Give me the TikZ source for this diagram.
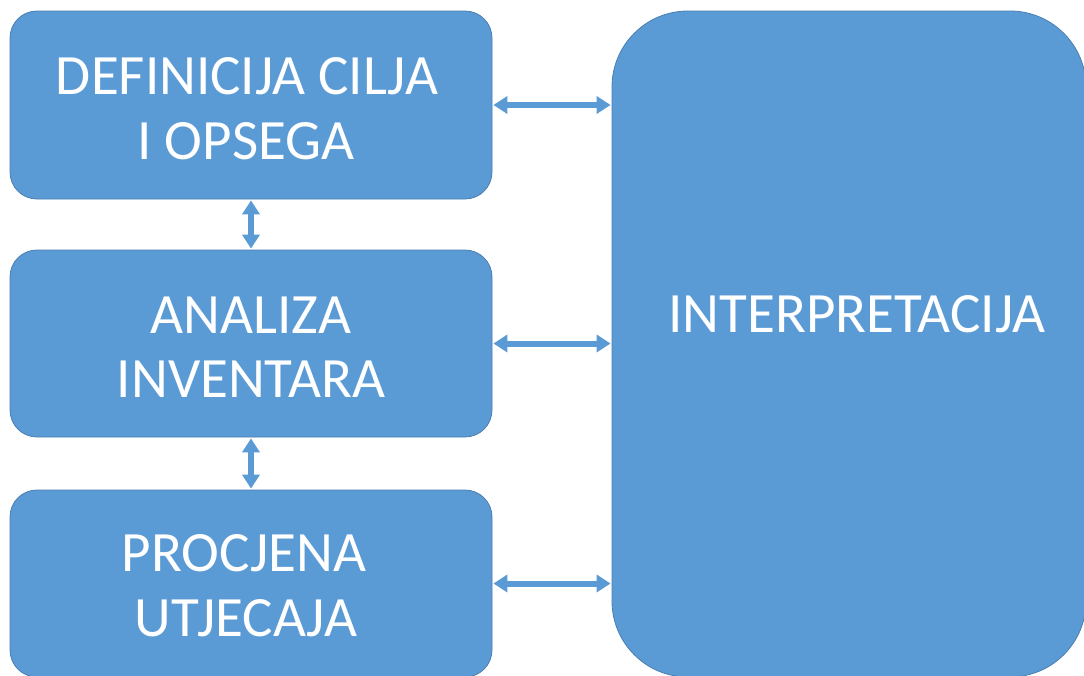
\documentclass[tikz,border=0pt]{standalone}
\usepackage{fontspec}
\setmainfont{Carlito}
\usetikzlibrary{arrows.meta}
\definecolor{boxfill}{HTML}{5B9BD5}
\definecolor{boxline}{HTML}{4A7EB0}
\tikzset{
  blk/.style={draw=boxline, line width=0.8pt, fill=boxfill, rounded corners=27pt, inner sep=0pt},
  bigblk/.style={draw=boxline, line width=0.8pt, fill=boxfill, rounded corners=76pt, inner sep=0pt},
  lbl/.style={text=white, font=\fontsize{57}{66}\selectfont, inner sep=0pt, anchor=base},
  conn/.style={draw=boxfill, line width=6pt, {Triangle[width=17pt,length=14pt]}-{Triangle[width=17pt,length=14pt]}, shorten <=1pt, shorten >=1pt}
}
\begin{document}
\begin{tikzpicture}[x=1pt,y=-1pt]
\useasboundingbox (0,0) rectangle (1084,675);
\clip (0,0) rectangle (1084,675);
\fill[white] (0,0) rectangle (1084,675);
% boxes
\node[blk, minimum width=482pt, minimum height=188pt] (b1) at (251,105) {};
\node[blk, minimum width=482pt, minimum height=187pt] (b2) at (251,343.5) {};
\node[blk, minimum width=482pt, minimum height=187pt] (b3) at (251,583.5) {};
\node[bigblk, minimum width=474pt, minimum height=666pt] (ri) at (849,344) {};
% labels
\node[lbl] (t1a) at (247,94) {DEFINICIJA CILJA};
\node[lbl] (t1b) at (246,159) {I OPSEGA};
\node[lbl] (t2a) at (251,333) {ANALIZA};
\node[lbl] (t2b) at (251,397) {INVENTARA};
\node[lbl] (t3a) at (244,571) {PROCJENA};
\node[lbl] (t3b) at (246,636) {UTJECAJA};
\node[lbl] (t4) at (857,332) {INTERPRETACIJA};
% connectors
\draw[conn] (b1.east) -- (b1.east -| ri.west);
\draw[conn] (b2.east) -- (b2.east -| ri.west);
\draw[conn] (b3.east) -- (b3.east -| ri.west);
\draw[conn] (b1.south) -- (b2.north);
\draw[conn] (b2.south) -- (b3.north);
\end{tikzpicture}
\end{document}
